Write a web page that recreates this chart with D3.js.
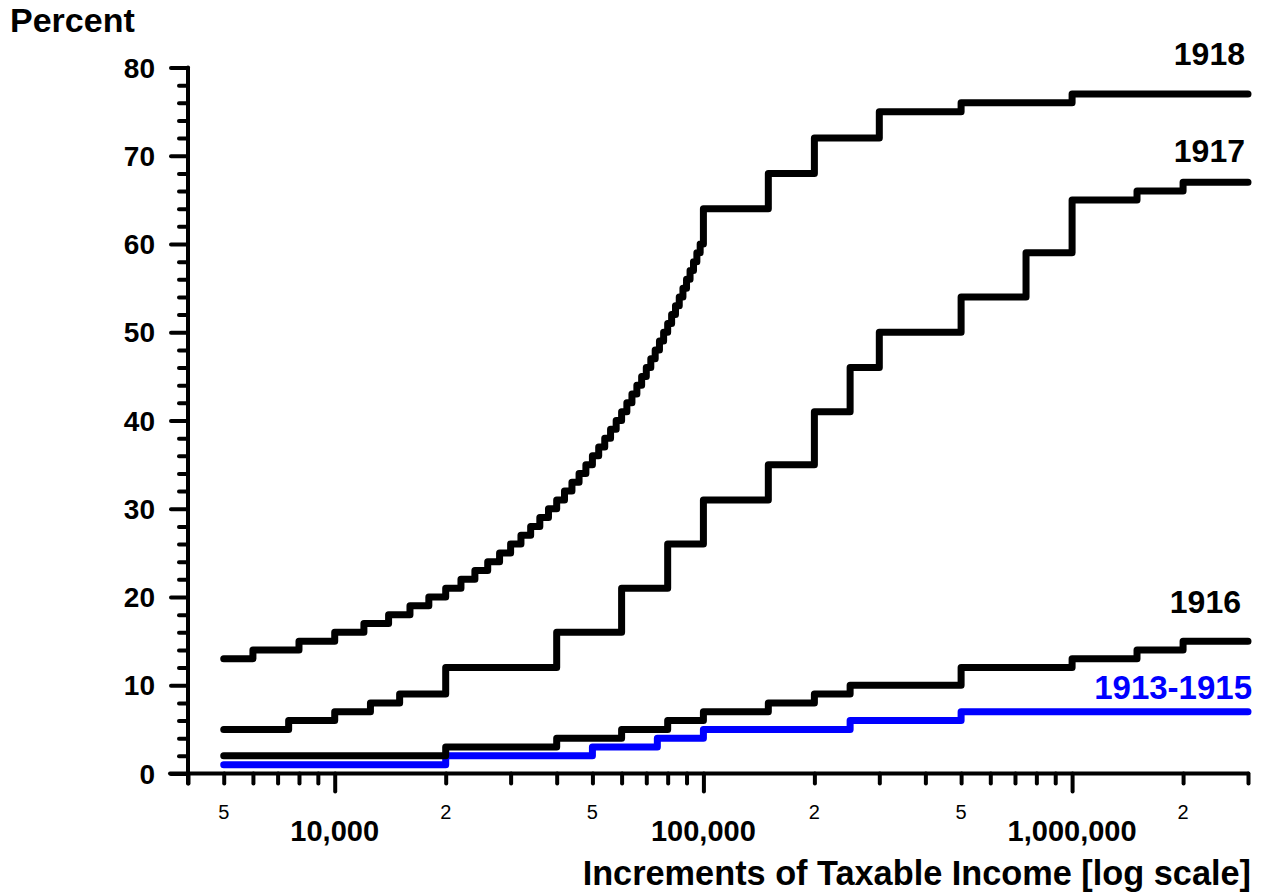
<!DOCTYPE html>
<html>
<head>
<meta charset="utf-8">
<script src="https://cdn.jsdelivr.net/npm/d3@7"></script>
<style>
  body { margin: 0; background: #fff; }
  text { font-family: "Liberation Sans", Arial, sans-serif; }
</style>
</head>
<body>
<div id="chart"></div>
<script>
// bracket lower bounds (taxable income) and the marginal rate (percent) in each bracket
const brackets1913 = [5000, 20000, 50000, 75000, 100000, 250000, 500000];
const rates1913 = [1, 2, 3, 4, 5, 6, 7];

const brackets1916 = [5000, 20000, 40000, 60000, 80000, 100000, 150000, 200000, 250000, 500000, 1000000, 1500000, 2000000];
const rates1916 = [2, 3, 4, 5, 6, 7, 8, 9, 10, 12, 13, 14, 15];

const brackets1917 = [5000, 7500, 10000, 12500, 15000, 20000, 40000, 60000, 80000, 100000, 150000, 200000, 250000, 300000, 500000, 750000, 1000000, 1500000, 2000000];
const rates1917 = [5, 6, 7, 8, 9, 12, 16, 21, 26, 31, 35, 41, 46, 50, 54, 59, 65, 66, 67];

const brackets1918 = [5000, 6000, 8000, 10000, 12000, 14000, 16000, 18000, 20000, 22000, 24000, 26000, 28000, 30000,
  32000, 34000, 36000, 38000, 40000, 42000, 44000, 46000, 48000, 50000, 52000, 54000, 56000, 58000, 60000,
  62000, 64000, 66000, 68000, 70000, 72000, 74000, 76000, 78000, 80000, 82000, 84000, 86000, 88000, 90000,
  92000, 94000, 96000, 98000, 100000, 150000, 200000, 300000, 500000, 1000000];
const rates1918 = [13, 14, 15, 16, 17, 18, 19, 20, 21, 22, 23, 24, 25, 26, 27, 28, 29, 30, 31, 32, 33, 34, 35, 36,
  37, 38, 39, 40, 41, 42, 43, 44, 45, 46, 47, 48, 49, 50, 51, 52, 53, 54, 55, 56, 57, 58, 59, 60,
  64, 68, 72, 75, 76, 77];

const seriesNames = ["1913-1915", "1916", "1917", "1918"];
const incomeMax = 3000000;

// axis ticks
const xMajorTicks = [10000, 100000, 1000000];
const xMajorLabels = ["10,000", "100,000", "1,000,000"];
const xMinorTicks = [4000, 5000, 6000, 7000, 8000, 9000,
  20000, 30000, 40000, 50000, 60000, 70000, 80000, 90000,
  200000, 300000, 400000, 500000, 600000, 700000, 800000, 900000,
  2000000, 3000000];
const xMinorLabelTicks = [5000, 20000, 50000, 200000, 500000, 2000000];
const xMinorLabels = ["5", "2", "5", "2", "5", "2"];
const yMajorTicks = [0, 10, 20, 30, 40, 50, 60, 70, 80];
const yMinorTicks = [2, 4, 6, 8, 12, 14, 16, 18, 22, 24, 26, 28, 32, 34, 36, 38, 42, 44, 46, 48,
  52, 54, 56, 58, 62, 64, 66, 68, 72, 74, 76, 78];

var width = 1265, height = 894;

var svg = d3.select("#chart")
  .append("svg")
    .attr("width", width)
    .attr("height", height);

var xScale = d3.scaleLog()
  .domain([4000, incomeMax])
  .range([188, 1248]);

var yScale = d3.scaleLinear()
  .domain([0, 80])
  .range([773.5, 67.5]);

// x axis: minor ticks, then major ticks drawn longer
var gx = svg.append("g").attr("transform", "translate(0," + yScale(0) + ")");
gx.append("g")
  .call(d3.axisBottom(xScale).tickValues(xMinorTicks).tickSize(10).tickFormat(""))
  .call(g => g.select(".domain").remove());
gx.append("g")
  .call(d3.axisBottom(xScale).tickValues(xMajorTicks).tickSize(18).tickFormat(""))
  .call(g => g.select(".domain").remove());
gx.selectAll("line")
  .attr("stroke", "#000")
  .attr("stroke-width", 4)
  .attr("stroke-linecap", "round");
gx.append("line")
  .attr("x1", 170).attr("x2", xScale(incomeMax))
  .attr("stroke", "#000")
  .attr("stroke-width", 4)
  .attr("stroke-linecap", "round");

// y axis
var gy = svg.append("g").attr("transform", "translate(" + xScale(4000) + ",0)");
gy.append("g")
  .call(d3.axisLeft(yScale).tickValues(yMinorTicks).tickSize(9).tickFormat(""))
  .call(g => g.select(".domain").remove());
gy.append("g")
  .call(d3.axisLeft(yScale).tickValues(yMajorTicks).tickSize(17).tickFormat(""))
  .call(g => g.select(".domain").remove());
gy.selectAll("line")
  .attr("stroke", "#000")
  .attr("stroke-width", 4)
  .attr("stroke-linecap", "round");
gy.append("line")
  .attr("y1", yScale(80)).attr("y2", yScale(0) + 10)
  .attr("stroke", "#000")
  .attr("stroke-width", 4)
  .attr("stroke-linecap", "round");

// tick labels
svg.append("g").selectAll("text")
  .data(yMajorTicks)
  .enter()
  .append("text")
    .attr("x", 155)
    .attr("y", d => yScale(d))
    .attr("dy", "0.36em")
    .attr("text-anchor", "end")
    .style("font-size", "28px")
    .style("font-weight", "bold")
    .text(d => d);

svg.append("g").selectAll("text")
  .data(xMinorLabelTicks)
  .enter()
  .append("text")
    .attr("x", d => xScale(d))
    .attr("y", 819)
    .attr("text-anchor", "middle")
    .style("font-size", "20px")
    .text((d, i) => xMinorLabels[i]);

svg.append("g").selectAll("text")
  .data(xMajorTicks)
  .enter()
  .append("text")
    .attr("x", d => xScale(d))
    .attr("y", 841)
    .attr("text-anchor", "middle")
    .style("font-size", "29px")
    .style("font-weight", "bold")
    .text((d, i) => xMajorLabels[i]);

// axis titles
svg.append("text")
  .attr("x", 10)
  .attr("y", 32)
  .style("font-size", "34px")
  .style("font-weight", "bold")
  .text("Percent");

svg.append("text")
  .attr("x", 1251)
  .attr("y", 885)
  .attr("text-anchor", "end")
  .style("font-size", "34.3px")
  .style("font-weight", "bold")
  .text("Increments of Taxable Income [log scale]");

// step lines
var line = d3.line()
  .x(d => xScale(d.income))
  .y(d => yScale(d.rate))
  .curve(d3.curveStepAfter);

function toPoints(brackets, rates) {
  var pts = brackets.map((b, i) => ({ income: b, rate: rates[i] }));
  pts.push({ income: incomeMax, rate: rates[rates.length - 1] });
  return pts;
}

var series = [
  { name: seriesNames[0], pts: toPoints(brackets1913, rates1913), color: "#0000ff", labelX: 1252, labelY: 699, size: 33 },
  { name: seriesNames[1], pts: toPoints(brackets1916, rates1916), color: "#000", labelX: 1241, labelY: 613, size: 32 },
  { name: seriesNames[2], pts: toPoints(brackets1917, rates1917), color: "#000", labelX: 1245, labelY: 162, size: 32 },
  { name: seriesNames[3], pts: toPoints(brackets1918, rates1918), color: "#000", labelX: 1245, labelY: 65, size: 32 }
];

svg.append("g")
  .selectAll("path")
  .data(series)
  .enter()
  .append("path")
    .attr("d", d => line(d.pts))
    .attr("fill", "none")
    .attr("stroke", d => d.color)
    .attr("stroke-width", 7)
    .attr("stroke-linecap", "round")
    .attr("stroke-linejoin", "round");

svg.append("g")
  .selectAll("text")
  .data(series)
  .enter()
  .append("text")
    .attr("x", d => d.labelX)
    .attr("y", d => d.labelY)
    .attr("text-anchor", "end")
    .attr("fill", d => d.color)
    .style("font-size", d => d.size + "px")
    .style("font-weight", "bold")
    .text(d => d.name);
</script>
</body>
</html>
